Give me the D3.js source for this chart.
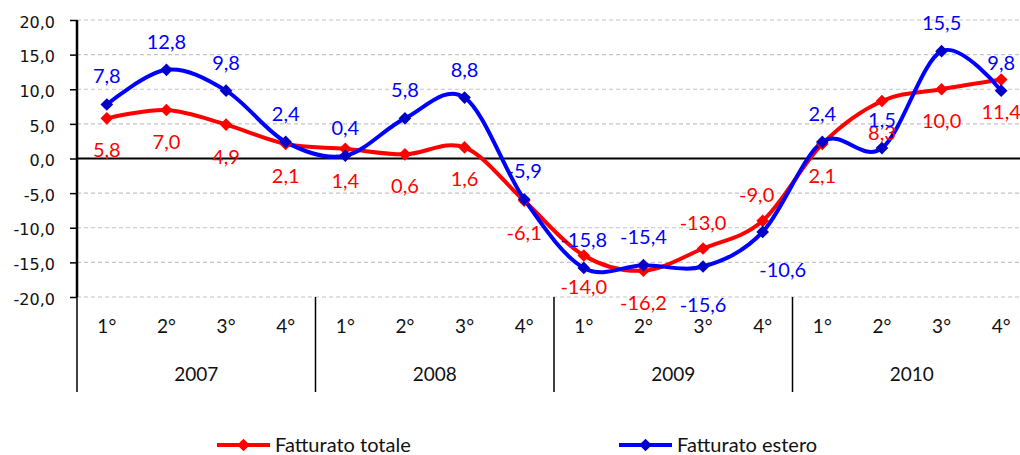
<!DOCTYPE html>
<html>
<head>
<meta charset="utf-8">
<script src="https://cdn.jsdelivr.net/npm/d3@7"></script>
<style>
  body { margin: 0; background: #fff; }
  svg { display: block; }
</style>
</head>
<body>
<svg id="chart" width="1020" height="455"></svg>
<script>
const years = ['2007', '2008', '2009', '2010']
const quarters = ['1°', '2°', '3°', '4°']
const yTicks = [-20, -15, -10, -5, 0, 5, 10, 15, 20]

const totale = [5.8, 7.0, 4.9, 2.1, 1.4, 0.6, 1.6, -6.1, -14.0, -16.2, -13.0, -9.0, 2.1, 8.3, 10.0, 11.4]
const estero = [7.8, 12.8, 9.8, 2.4, 0.4, 5.8, 8.8, -5.9, -15.8, -15.4, -15.6, -10.6, 2.4, 1.5, 15.5, 9.8]

const seriesNames = ['Fatturato totale', 'Fatturato estero']

// periods: one per quarter of each year
const periods = []
years.forEach(y => quarters.forEach(q => periods.push({ year: y, quarter: q })))

const it = d3.formatLocale({ decimal: ',', thousands: '.', grouping: [3], currency: ['', '€'], minus: '-' })
const fmt = it.format('.1f')

const svg = d3.select('#chart')

const plotLeft = 77
const plotTop = 20
const plotBottom = 297
const plotRight = 1031

const x = d3.scaleBand()
  .domain(d3.range(periods.length))
  .range([plotLeft, plotRight])
const cx = i => x(i) + x.bandwidth() / 2

const y = d3.scaleLinear()
  .domain([-20, 20])
  .range([plotBottom, plotTop])

// dashed grid
svg.append('g')
  .selectAll('line')
  .data(yTicks.filter(d => d !== 0))
  .enter()
  .append('line')
  .attr('x1', plotLeft)
  .attr('x2', plotRight)
  .attr('y1', d => y(d))
  .attr('y2', d => y(d))
  .attr('stroke', '#c4c4c4')
  .attr('stroke-width', 1.2)
  .attr('stroke-dasharray', '4,3')

// y axis
const yAxis = d3.axisLeft(y)
  .tickValues(yTicks)
  .tickFormat(fmt)
  .tickSize(7)
  .tickPadding(15)

const gy = svg.append('g')
  .attr('transform', `translate(${plotLeft},0)`)
  .call(yAxis)
gy.select('.domain').remove()
gy.selectAll('.tick line').attr('stroke', '#000').attr('stroke-width', 1.5)
gy.selectAll('.tick text')
  .attr('font-family', 'DejaVu Sans')
  .attr('font-size', 16)
  .attr('fill', '#111')
  .attr('dy', '0.45em')

// axis line
svg.append('line')
  .attr('x1', plotLeft).attr('x2', plotLeft)
  .attr('y1', plotTop).attr('y2', plotBottom)
  .attr('stroke', '#000').attr('stroke-width', 2.5)

// zero line
svg.append('line')
  .attr('x1', plotLeft).attr('x2', plotRight)
  .attr('y1', y(0)).attr('y2', y(0))
  .attr('stroke', '#000').attr('stroke-width', 2.2)

// year separators
svg.append('g')
  .selectAll('line')
  .data(d3.range(years.length + 1))
  .enter()
  .append('line')
  .attr('x1', i => plotLeft + i * 4 * x.bandwidth())
  .attr('x2', i => plotLeft + i * 4 * x.bandwidth())
  .attr('y1', plotBottom)
  .attr('y2', 392)
  .attr('stroke', '#000')
  .attr('stroke-width', 1.5)

// quarter labels
svg.append('g')
  .selectAll('text')
  .data(periods)
  .enter()
  .append('text')
  .text(d => d.quarter)
  .attr('x', (d, i) => cx(i))
  .attr('y', 326)
  .attr('dy', '0.35em')
  .attr('text-anchor', 'middle')
  .attr('font-family', 'Lato')
  .attr('font-size', 19)
  .attr('fill', '#111')

// year labels
svg.append('g')
  .selectAll('text')
  .data(years)
  .enter()
  .append('text')
  .text(d => d)
  .attr('x', (d, i) => plotLeft + (i * 4 + 2) * x.bandwidth())
  .attr('y', 374)
  .attr('dy', '0.35em')
  .attr('text-anchor', 'middle')
  .attr('font-family', 'Lato')
  .attr('font-size', 19)
  .attr('fill', '#111')

const line = d3.line()
  .x((d, i) => cx(i))
  .y(d => y(d))
  .curve(d3.curveCardinal.tension(0))

// square rotated 45deg gives an even diamond
const diamond = d3.symbol().type(d3.symbolSquare).size(80)

const series = [
  { name: seriesNames[0], values: totale, color: '#ff0000', marker: '#ff0000', labelDy: 32, flip: [10, 11] },
  { name: seriesNames[1], values: estero, color: '#0000ff', marker: '#0000c8', labelDy: -28, flip: [10, 11] }
]

series.forEach(s => {
  svg.append('path')
    .datum(s.values)
    .attr('d', line)
    .attr('fill', 'none')
    .attr('stroke', s.color)
    .attr('stroke-width', 4)
})

series.forEach(s => {
  svg.append('g')
    .selectAll('path')
    .data(s.values)
    .enter()
    .append('path')
    .attr('d', diamond)
    .attr('transform', (d, i) => `translate(${cx(i)},${y(d)}) rotate(45)`)
    .attr('fill', s.marker)
})

// data labels
series.forEach(s => {
  svg.append('g')
    .selectAll('text')
    .data(s.values)
    .enter()
    .append('text')
    .text(d => fmt(d))
    .attr('x', (d, i) => {
      // the -10,6 and -9,0 labels are pushed sideways
      if (s.labelDy < 0 && i === 11) return cx(i) + 20
      if (s.labelDy > 0 && i === 11) return cx(i) - 6
      return cx(i)
    })
    .attr('y', (d, i) => {
      let dy = s.labelDy
      if (s.flip.includes(i)) dy = s.labelDy > 0 ? -26 : 38
      return y(d) + dy
    })
    .attr('dy', '0.35em')
    .attr('text-anchor', 'middle')
    .attr('font-family', 'Lato')
    .attr('font-size', 20)
    .attr('fill', s.color)
})

// legend
const legendX = [217, 619]
const legend = svg.append('g')
  .selectAll('g')
  .data(series)
  .enter()
  .append('g')
  .attr('transform', (d, i) => `translate(${legendX[i]},445)`)

legend.append('line')
  .attr('x1', 0).attr('x2', 53)
  .attr('y1', 0).attr('y2', 0)
  .attr('stroke', d => d.color)
  .attr('stroke-width', 4)

legend.append('path')
  .attr('d', diamond)
  .attr('transform', 'translate(26.5,0) rotate(45)')
  .attr('fill', d => d.marker)

legend.append('text')
  .text(d => d.name)
  .attr('x', 58)
  .attr('y', 0)
  .attr('dy', '0.35em')
  .attr('font-family', 'Lato')
  .attr('font-size', 20)
  .attr('fill', '#111')
</script>
</body>
</html>
